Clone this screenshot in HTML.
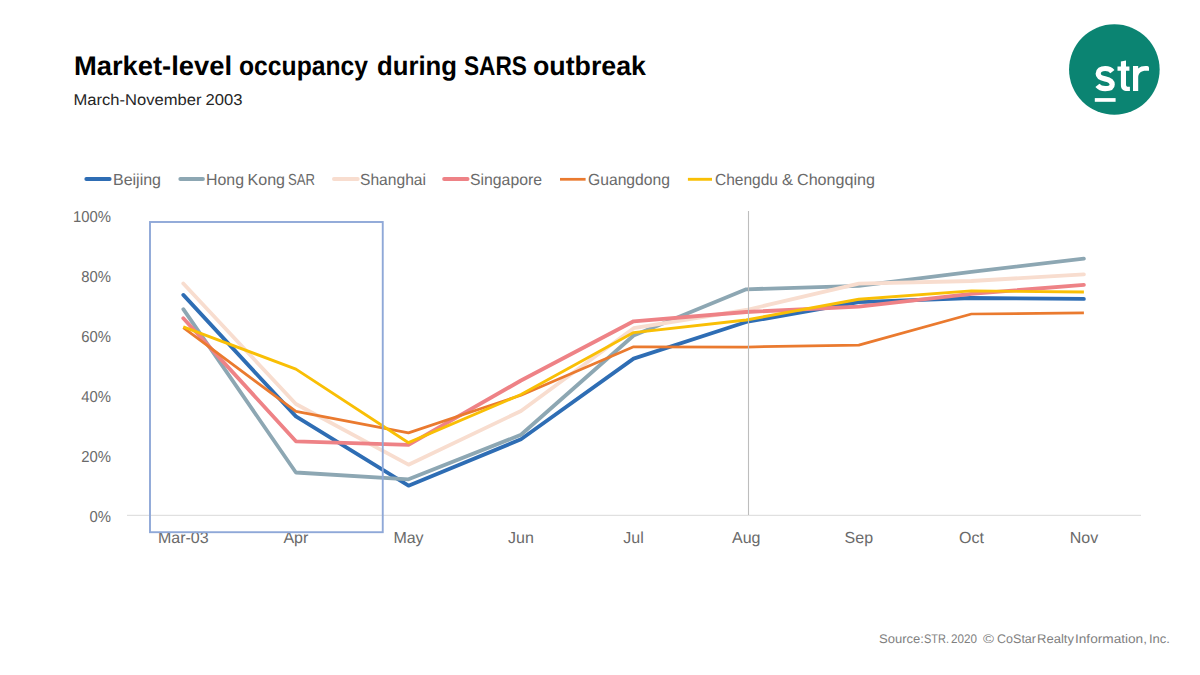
<!DOCTYPE html><html><head><meta charset="utf-8"><title>Market-level occupancy during SARS outbreak</title><style>html,body{margin:0;padding:0;background:#fff;overflow:hidden;}svg{display:block;}text{font-family:"Liberation Sans", sans-serif;text-rendering:geometricPrecision;}</style></head><body><svg width="1200" height="675" viewBox="0 0 1200 675">
<rect width="1200" height="675" fill="#fff"/>
<text x="74.00" y="74.7" font-size="27" font-weight="bold" fill="#000000" textLength="158.00" lengthAdjust="spacingAndGlyphs">Market-level</text>
<text x="239.00" y="74.7" font-size="27" font-weight="bold" fill="#000000" textLength="129.00" lengthAdjust="spacingAndGlyphs">occupancy</text>
<text x="377.00" y="74.7" font-size="27" font-weight="bold" fill="#000000" textLength="80.00" lengthAdjust="spacingAndGlyphs">during</text>
<text x="464.00" y="74.7" font-size="27" font-weight="bold" fill="#000000" textLength="63.00" lengthAdjust="spacingAndGlyphs">SARS</text>
<text x="533.00" y="74.7" font-size="27" font-weight="bold" fill="#000000" textLength="113.00" lengthAdjust="spacingAndGlyphs">outbreak</text>
<text x="73.50" y="104.8" font-size="15.6" font-weight="normal" fill="#262626" textLength="128.00" lengthAdjust="spacingAndGlyphs">March-November</text>
<text x="205.50" y="104.8" font-size="15.6" font-weight="normal" fill="#262626" textLength="37.00" lengthAdjust="spacingAndGlyphs">2003</text>
<circle cx="1114.35" cy="69.5" r="45.3" fill="#0B8472"/>
<path fill="none" stroke="#fff" stroke-width="5.2" d="M1112.4,71.6 C1110.8,69.5 1108.4,68.5 1105.2,68.5 C1100.9,68.5 1098.2,70.5 1098.2,73.8 C1098.2,77.3 1101.6,78.2 1105,78.9 C1109.4,79.8 1112.2,81 1112.2,84.6 C1112.2,87.3 1109.8,88.7 1105.2,88.7 C1101.6,88.7 1099.2,87.6 1097.4,85.4"/>
<path fill="#fff" d="M1120.9,61.6 L1126,60.4 V66.6 H1129.4 V70.8 H1126 V84.4 C1126,86 1126.8,86.7 1128.3,86.7 H1129.9 V91.1 H1127.6 C1123.1,91.1 1120.9,89 1120.9,85 V70.8 H1117.5 V66.6 H1120.9 Z"/>
<path fill="#fff" d="M1133,91.1 V66 H1138.2 V68.6 C1139.8,66.8 1142.3,66 1145.6,66 H1147.2 C1148.3,66 1149,66.8 1149,67.9 V70.8 H1146 C1141,70.8 1138.2,73.2 1138.2,77.6 V91.1 Z"/>
<rect x="1094.8" y="98.1" width="20.8" height="3.7" fill="#fff"/>
<line x1="86.30" y1="179.0" x2="109.70" y2="179.0" stroke="#2E6DB4" stroke-width="3.8" stroke-linecap="round"/>
<text x="113.00" y="184.7" font-size="16" font-weight="normal" fill="#6A6A6A" textLength="48.00" lengthAdjust="spacingAndGlyphs">Beijing</text>
<line x1="180.30" y1="179.0" x2="203.00" y2="179.0" stroke="#8DA7B3" stroke-width="3.8" stroke-linecap="round"/>
<text x="206.00" y="184.7" font-size="16" font-weight="normal" fill="#6A6A6A" textLength="38.00" lengthAdjust="spacingAndGlyphs">Hong</text>
<text x="247.50" y="184.7" font-size="16" font-weight="normal" fill="#6A6A6A" textLength="37.50" lengthAdjust="spacingAndGlyphs">Kong</text>
<text x="288.00" y="184.7" font-size="16" font-weight="normal" fill="#6A6A6A" textLength="27.00" lengthAdjust="spacingAndGlyphs">SAR</text>
<line x1="333.90" y1="179.0" x2="357.80" y2="179.0" stroke="#F8DDCF" stroke-width="3.8" stroke-linecap="round"/>
<text x="360.00" y="184.7" font-size="16" font-weight="normal" fill="#6A6A6A" textLength="66.00" lengthAdjust="spacingAndGlyphs">Shanghai</text>
<line x1="444.10" y1="179.0" x2="467.60" y2="179.0" stroke="#EE8286" stroke-width="3.8" stroke-linecap="round"/>
<text x="470.00" y="184.7" font-size="16" font-weight="normal" fill="#6A6A6A" textLength="72.00" lengthAdjust="spacingAndGlyphs">Singapore</text>
<line x1="560.00" y1="179.3" x2="585.60" y2="179.3" stroke="#EA7A2F" stroke-width="2.75" stroke-linecap="butt"/>
<text x="588.00" y="184.7" font-size="16" font-weight="normal" fill="#6A6A6A" textLength="82.00" lengthAdjust="spacingAndGlyphs">Guangdong</text>
<line x1="687.90" y1="179.3" x2="712.00" y2="179.3" stroke="#F9BF05" stroke-width="2.9" stroke-linecap="butt"/>
<text x="715.00" y="184.7" font-size="16" font-weight="normal" fill="#6A6A6A" textLength="63.00" lengthAdjust="spacingAndGlyphs">Chengdu</text>
<text x="782.00" y="184.7" font-size="16" font-weight="normal" fill="#6A6A6A" textLength="11.00" lengthAdjust="spacingAndGlyphs">&amp;</text>
<text x="797.00" y="184.7" font-size="16" font-weight="normal" fill="#6A6A6A" textLength="78.00" lengthAdjust="spacingAndGlyphs">Chongqing</text>
<text x="118.09" y="521.9" font-size="15.8" fill="#6A6A6A" text-anchor="end" transform="scale(0.94,1)">0%</text>
<text x="118.09" y="461.9" font-size="15.8" fill="#6A6A6A" text-anchor="end" transform="scale(0.94,1)">20%</text>
<text x="118.09" y="401.9" font-size="15.8" fill="#6A6A6A" text-anchor="end" transform="scale(0.94,1)">40%</text>
<text x="118.09" y="341.9" font-size="15.8" fill="#6A6A6A" text-anchor="end" transform="scale(0.94,1)">60%</text>
<text x="118.09" y="281.9" font-size="15.8" fill="#6A6A6A" text-anchor="end" transform="scale(0.94,1)">80%</text>
<text x="118.09" y="221.9" font-size="15.8" fill="#6A6A6A" text-anchor="end" transform="scale(0.94,1)">100%</text>
<line x1="127" y1="515.3" x2="1141" y2="515.3" stroke="#d9d9d9" stroke-width="1"/>
<text x="183.3" y="543.0" font-size="16" fill="#6A6A6A" text-anchor="middle">Mar-03</text>
<text x="295.9" y="543.0" font-size="16" fill="#6A6A6A" text-anchor="middle">Apr</text>
<text x="408.5" y="543.0" font-size="16" fill="#6A6A6A" text-anchor="middle">May</text>
<text x="521.0" y="543.0" font-size="16" fill="#6A6A6A" text-anchor="middle">Jun</text>
<text x="633.6" y="543.0" font-size="16" fill="#6A6A6A" text-anchor="middle">Jul</text>
<text x="746.2" y="543.0" font-size="16" fill="#6A6A6A" text-anchor="middle">Aug</text>
<text x="858.8" y="543.0" font-size="16" fill="#6A6A6A" text-anchor="middle">Sep</text>
<text x="971.4" y="543.0" font-size="16" fill="#6A6A6A" text-anchor="middle">Oct</text>
<text x="1083.9" y="543.0" font-size="16" fill="#6A6A6A" text-anchor="middle">Nov</text>
<polyline points="183.3,294.9 295.9,416.4 408.5,485.7 521.0,439.3 633.6,358.6 746.2,322.0 858.8,302.2 971.4,298.0 1083.9,298.9" fill="none" stroke="#2E6DB4" stroke-width="3.8" stroke-linejoin="round" stroke-linecap="round"/>
<polyline points="183.3,309.2 295.9,472.5 408.5,479.3 521.0,434.8 633.6,335.5 746.2,289.3 858.8,285.9 971.4,271.9 1083.9,258.6" fill="none" stroke="#8DA7B3" stroke-width="3.8" stroke-linejoin="round" stroke-linecap="round"/>
<polyline points="183.3,283.5 295.9,404.0 408.5,464.7 521.0,411.0 633.6,328.2 746.2,310.0 858.8,283.7 971.4,281.0 1083.9,274.4" fill="none" stroke="#F8DDCF" stroke-width="3.8" stroke-linejoin="round" stroke-linecap="round"/>
<polyline points="183.3,318.2 295.9,441.3 408.5,444.9 521.0,380.5 633.6,321.3 746.2,312.0 858.8,306.7 971.4,293.8 1083.9,284.9" fill="none" stroke="#EE8286" stroke-width="3.8" stroke-linejoin="round" stroke-linecap="round"/>
<polyline points="183.3,327.6 295.9,411.4 408.5,432.9 521.0,395.2 633.6,346.8 746.2,347.0 858.8,345.2 971.4,314.0 1083.9,312.8" fill="none" stroke="#EA7A2F" stroke-width="2.75" stroke-linejoin="round" stroke-linecap="butt"/>
<polyline points="183.3,326.8 295.9,369.1 408.5,442.7 521.0,394.5 633.6,332.6 746.2,320.0 858.8,299.3 971.4,290.9 1083.9,292.0" fill="none" stroke="#F9BF05" stroke-width="2.9" stroke-linejoin="round" stroke-linecap="butt"/>
<line x1="748.5" y1="211" x2="748.5" y2="515" stroke="#BDBDBD" stroke-width="1.1"/>
<rect x="150" y="222" width="232.75" height="310.2" fill="none" stroke="#8FA8D8" stroke-width="1.9"/>
<text x="879.00" y="643.0" font-size="12.5" font-weight="normal" fill="#7f7f7f" textLength="45.00" lengthAdjust="spacingAndGlyphs">Source:</text>
<text x="924.00" y="643.0" font-size="12.5" font-weight="normal" fill="#7f7f7f" textLength="25.00" lengthAdjust="spacingAndGlyphs">STR.</text>
<text x="951.00" y="643.0" font-size="12.5" font-weight="normal" fill="#7f7f7f" textLength="26.00" lengthAdjust="spacingAndGlyphs">2020</text>
<text x="983.00" y="643.0" font-size="12.5" font-weight="normal" fill="#7f7f7f" textLength="11.00" lengthAdjust="spacingAndGlyphs">©</text>
<text x="997.00" y="643.0" font-size="12.5" font-weight="normal" fill="#7f7f7f" textLength="39.00" lengthAdjust="spacingAndGlyphs">CoStar</text>
<text x="1037.00" y="643.0" font-size="12.5" font-weight="normal" fill="#7f7f7f" textLength="37.00" lengthAdjust="spacingAndGlyphs">Realty</text>
<text x="1075.00" y="643.0" font-size="12.5" font-weight="normal" fill="#7f7f7f" textLength="72.00" lengthAdjust="spacingAndGlyphs">Information,</text>
<text x="1149.00" y="643.0" font-size="12.5" font-weight="normal" fill="#7f7f7f" textLength="21.00" lengthAdjust="spacingAndGlyphs">Inc.</text>
</svg></body></html>
